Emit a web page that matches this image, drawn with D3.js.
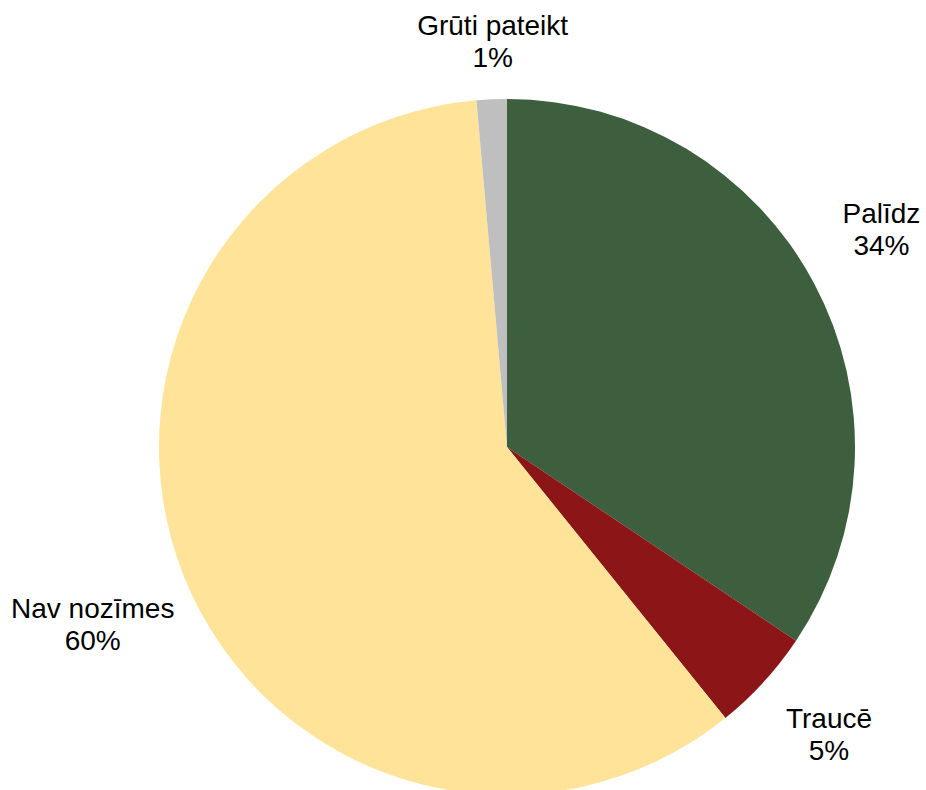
<!DOCTYPE html>
<html>
<head>
<meta charset="utf-8">
<script src="https://cdn.jsdelivr.net/npm/d3@7"></script>
<style>
  html, body { margin: 0; padding: 0; background: #fff; }
</style>
</head>
<body>
<div id="chart"></div>
<script>
// data (clockwise from 12 o'clock)
const categories = ["Palīdz", "Traucē", "Nav nozīmes", "Grūti pateikt"];
const values = [34.4, 4.8, 59.4, 1.4];
const valueLabels = ["34%", "5%", "60%", "1%"];
const colors = ["#3d5f3d", "#8b1517", "#fee398", "#bfbfbf"];

const width = 926;
const height = 790;
const cx = 507, cy = 447, radius = 348;

// small nudges so labels sit where Excel put them
const labelNudge = [[6, -27], [14, -1], [-27, 15], [4, 5]];

const data = categories.map((c, i) => ({ category: c, value: values[i], label: valueLabels[i], color: colors[i], nudge: labelNudge[i] }));

const svg = d3.select("#chart")
    .append("svg")
    .attr("width", width)
    .attr("height", height)
    .style("font-family", "Arial, 'Liberation Sans', sans-serif");

const g = svg.append("g")
    .attr("transform", `translate(${cx},${cy})`);

const pie = d3.pie()
    .value(d => d.value)
    .sort(null);

const arc = d3.arc()
    .innerRadius(0)
    .outerRadius(radius);

const arcs = pie(data);

g.selectAll(".slice")
    .data(arcs)
    .enter()
    .append("path")
    .attr("class", "slice")
    .attr("d", arc)
    .attr("fill", d => d.data.color);

const labelRadius = radius * 1.2;

const labels = g.selectAll(".label")
    .data(arcs)
    .enter()
    .append("text")
    .attr("class", "label")
    .attr("text-anchor", "middle")
    .attr("font-size", "28px")
    .attr("fill", "#000")
    .attr("transform", d => {
        const mid = (d.startAngle + d.endAngle) / 2;
        const x = labelRadius * Math.sin(mid) + d.data.nudge[0];
        const y = -labelRadius * Math.cos(mid) + d.data.nudge[1];
        return `translate(${x},${y})`;
    });

labels.append("tspan")
    .attr("x", 0)
    .attr("y", 0)
    .text(d => d.data.category);

labels.append("tspan")
    .attr("x", 0)
    .attr("y", 32)
    .text(d => d.data.label);
</script>
</body>
</html>
